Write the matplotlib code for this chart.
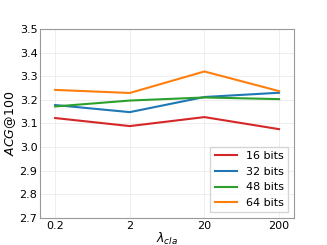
import numpy as np
import matplotlib.pyplot as plt

lambdas = ['0.2', '2', '20', '200']
acg_16 = [3.123, 3.089, 3.127, 3.076]
acg_32 = [3.178, 3.148, 3.212, 3.230]
acg_48 = [3.172, 3.197, 3.210, 3.203]
acg_64 = [3.242, 3.229, 3.320, 3.237]

fig, ax = plt.subplots(figsize=(3.27, 2.45), dpi=100)
plt.subplots_adjust(left=0.123, right=0.899, top=0.882, bottom=0.11)

x = np.arange(len(lambdas))
ax.plot(x, acg_16, color='#d62728', lw=1.5, label='16 bits')
ax.plot(x, acg_32, color='#1f77b4', lw=1.5, label='32 bits')
ax.plot(x, acg_48, color='#2ca02c', lw=1.5, label='48 bits')
ax.plot(x, acg_64, color='#ff7f0e', lw=1.5, label='64 bits')

ax.set_xticks(x)
ax.set_xticklabels(lambdas)
ax.set_xlim(-0.2, 3.2)
ax.set_ylim(2.7, 3.5)
ax.set_yticks(np.arange(2.7, 3.51, 0.1))
ax.tick_params(labelsize=8, length=0, pad=2)
ax.grid(True, color='#ebebeb', lw=0.6)
for s in ax.spines.values():
    s.set_color('#999999')
ax.set_xlabel(r'$\lambda_{cla}$', fontsize=9, labelpad=0)
ax.set_ylabel(r'$ACG@100$', fontsize=9, labelpad=1)
ax.legend(loc='lower right', fontsize=8, handlelength=2, fancybox=False)

plt.savefig('out.png', dpi=100)
